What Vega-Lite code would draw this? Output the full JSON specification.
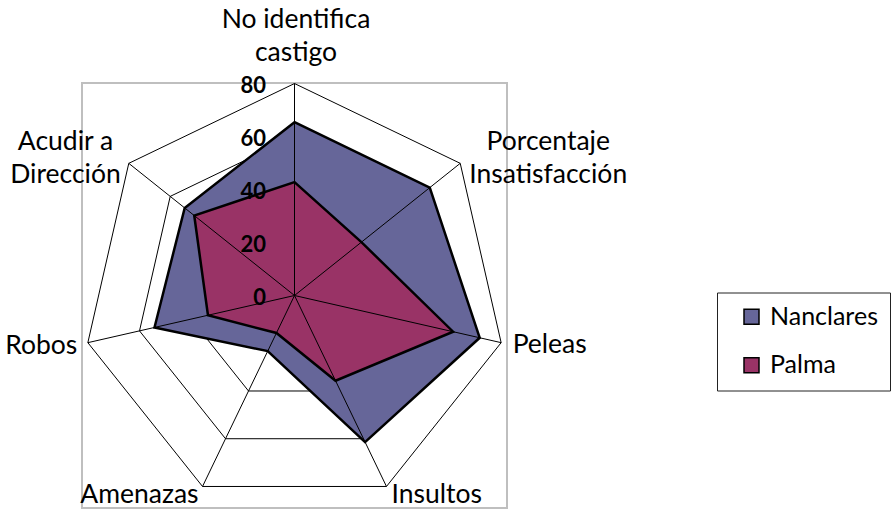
{
  "$schema": "https://vega.github.io/schema/vega-lite/v6.json",
  "width": 425,
  "height": 425,
  "autosize": {"type": "none"},
  "padding": {"left": 82, "top": 83, "right": 385, "bottom": 1},
  "background": "white",
  "config": {"view": {"stroke": "#bfbfbf", "strokeWidth": 2}, "font": "Lato"},
  "datasets": {
    "series": [
      {"series": "Nanclares", "category": "No identifica castigo", "value": 65.4},
      {"series": "Nanclares", "category": "Porcentaje Insatisfacción", "value": 65.3},
      {"series": "Nanclares", "category": "Peleas", "value": 71.7},
      {"series": "Nanclares", "category": "Insultos", "value": 61.4},
      {"series": "Nanclares", "category": "Amenazas", "value": 23.3},
      {"series": "Nanclares", "category": "Robos", "value": 54.2},
      {"series": "Nanclares", "category": "Acudir a Dirección", "value": 53},
      {"series": "Palma", "category": "No identifica castigo", "value": 42.8},
      {"series": "Palma", "category": "Porcentaje Insatisfacción", "value": 32.3},
      {"series": "Palma", "category": "Peleas", "value": 61.4},
      {"series": "Palma", "category": "Insultos", "value": 35.7},
      {"series": "Palma", "category": "Amenazas", "value": 15.7},
      {"series": "Palma", "category": "Robos", "value": 33.5},
      {"series": "Palma", "category": "Acudir a Dirección", "value": 48.4}
    ],
    "grid": [
      {"category": "No identifica castigo", "level": 20},
      {"category": "Porcentaje Insatisfacción", "level": 20},
      {"category": "Peleas", "level": 20},
      {"category": "Insultos", "level": 20},
      {"category": "Amenazas", "level": 20},
      {"category": "Robos", "level": 20},
      {"category": "Acudir a Dirección", "level": 20},
      {"category": "No identifica castigo", "level": 40},
      {"category": "Porcentaje Insatisfacción", "level": 40},
      {"category": "Peleas", "level": 40},
      {"category": "Insultos", "level": 40},
      {"category": "Amenazas", "level": 40},
      {"category": "Robos", "level": 40},
      {"category": "Acudir a Dirección", "level": 40},
      {"category": "No identifica castigo", "level": 60},
      {"category": "Porcentaje Insatisfacción", "level": 60},
      {"category": "Peleas", "level": 60},
      {"category": "Insultos", "level": 60},
      {"category": "Amenazas", "level": 60},
      {"category": "Robos", "level": 60},
      {"category": "Acudir a Dirección", "level": 60},
      {"category": "No identifica castigo", "level": 80},
      {"category": "Porcentaje Insatisfacción", "level": 80},
      {"category": "Peleas", "level": 80},
      {"category": "Insultos", "level": 80},
      {"category": "Amenazas", "level": 80},
      {"category": "Robos", "level": 80},
      {"category": "Acudir a Dirección", "level": 80}
    ],
    "cats": [
      {"category": "No identifica castigo", "label": "No identifica\ncastigo", "level": 80},
      {"category": "Porcentaje Insatisfacción", "label": "Porcentaje\nInsatisfacción", "level": 80},
      {"category": "Peleas", "label": "Peleas", "level": 80},
      {"category": "Insultos", "label": "Insultos", "level": 80},
      {"category": "Amenazas", "label": "Amenazas", "level": 80},
      {"category": "Robos", "label": "Robos", "level": 80},
      {"category": "Acudir a Dirección", "label": "Acudir a\nDirección", "level": 80}
    ],
    "ticks": [
      {"category": "No identifica castigo", "level": 0},
      {"category": "No identifica castigo", "level": 20},
      {"category": "No identifica castigo", "level": 40},
      {"category": "No identifica castigo", "level": 60},
      {"category": "No identifica castigo", "level": 80}
    ]
  },
  "layer": [
    {
      "data": {"name": "grid"},
      "transform": [
        {"calculate": "indexof(['No identifica castigo','Porcentaje Insatisfacción','Peleas','Insultos','Amenazas','Robos','Acudir a Dirección'], datum.category)", "as": "idx"},
        {"calculate": "datum.level * sin(datum.idx * 2 * PI / 7)", "as": "px"},
        {"calculate": "datum.level * cos(datum.idx * 2 * PI / 7)", "as": "py"}
      ],
      "mark": {"type": "line", "interpolate": "linear-closed", "stroke": "black", "strokeWidth": 1},
      "encoding": {
        "x": {"field": "px", "type": "quantitative", "scale": {"domain": [-80.2, 80.2], "nice": false, "zero": false}, "axis": null},
        "y": {"field": "py", "type": "quantitative", "scale": {"domain": [-80.2, 80.2], "nice": false, "zero": false}, "axis": null},
        "detail": {"field": "level", "type": "nominal"},
        "order": {"field": "idx", "type": "quantitative"}
      }
    },
    {
      "data": {"name": "series"},
      "transform": [
        {"calculate": "indexof(['No identifica castigo','Porcentaje Insatisfacción','Peleas','Insultos','Amenazas','Robos','Acudir a Dirección'], datum.category)", "as": "idx"},
        {"calculate": "datum.value * sin(datum.idx * 2 * PI / 7)", "as": "px"},
        {"calculate": "datum.value * cos(datum.idx * 2 * PI / 7)", "as": "py"}
      ],
      "mark": {"type": "line", "interpolate": "linear-closed", "stroke": "black", "strokeWidth": 2.5, "strokeJoin": "miter", "fillOpacity": 1},
      "encoding": {
        "x": {"field": "px", "type": "quantitative"},
        "y": {"field": "py", "type": "quantitative"},
        "fill": {
          "field": "series", "type": "nominal",
          "scale": {"domain": ["Nanclares", "Palma"], "range": ["#666699", "#993366"]},
          "legend": {
            "title": null, "orient": "none", "legendX": 635, "legendY": 209.5,
            "symbolType": "square", "symbolSize": 225, "symbolStrokeColor": "black", "symbolStrokeWidth": 1.5,
            "labelFont": "Lato", "labelFontSize": 25, "labelColor": "black", "labelOffset": 6,
            "padding": 11.75, "symbolOffset": 10.25, "rowPadding": 22.5,
            "strokeColor": "#222222", "fillColor": "white"
          }
        },
        "order": {"field": "idx", "type": "quantitative"}
      }
    },
    {
      "data": {"name": "cats"},
      "transform": [
        {"calculate": "indexof(['No identifica castigo','Porcentaje Insatisfacción','Peleas','Insultos','Amenazas','Robos','Acudir a Dirección'], datum.category)", "as": "idx"},
        {"calculate": "datum.level * sin(datum.idx * 2 * PI / 7)", "as": "px"},
        {"calculate": "datum.level * cos(datum.idx * 2 * PI / 7)", "as": "py"}
      ],
      "mark": {"type": "rule", "stroke": "black", "strokeWidth": 1},
      "encoding": {
        "x": {"field": "px", "type": "quantitative"},
        "y": {"field": "py", "type": "quantitative"},
        "x2": {"datum": 0},
        "y2": {"datum": 0}
      }
    },
    {
      "data": {"name": "ticks"},
      "mark": {"type": "text", "align": "right", "baseline": "alphabetic", "dx": -28.5, "dy": 9.5, "fontSize": 22, "fontWeight": "bold", "color": "black"},
      "encoding": {
        "x": {"datum": 0, "type": "quantitative"},
        "y": {"field": "level", "type": "quantitative"},
        "text": {"field": "level", "type": "quantitative"}
      }
    },
    {
      "data": {"name": "cats"},
      "transform": [
        {"calculate": "indexof(['No identifica castigo','Porcentaje Insatisfacción','Peleas','Insultos','Amenazas','Robos','Acudir a Dirección'], datum.category)", "as": "idx"},
        {"calculate": "datum.level * sin(datum.idx * 2 * PI / 7)", "as": "px"},
        {"calculate": "datum.level * cos(datum.idx * 2 * PI / 7)", "as": "py"}
      ],
      "layer": [
        {
          "transform": [{"filter": "datum.idx == 0"}],
          "mark": {"type": "text", "align": "center", "baseline": "alphabetic", "dx": 1.5, "dy": -55.2, "lineBreak": "\n", "lineHeight": 33, "fontSize": 26.5, "color": "black"},
          "encoding": {"x": {"field": "px", "type": "quantitative"}, "y": {"field": "py", "type": "quantitative"}, "text": {"field": "label", "type": "nominal"}}
        },
        {
          "transform": [{"filter": "datum.idx == 1"}],
          "mark": {"type": "text", "align": "center", "baseline": "alphabetic", "dx": 88, "dy": -13.3, "lineBreak": "\n", "lineHeight": 33, "fontSize": 26.5, "color": "black"},
          "encoding": {"x": {"field": "px", "type": "quantitative"}, "y": {"field": "py", "type": "quantitative"}, "text": {"field": "label", "type": "nominal"}}
        },
        {
          "transform": [{"filter": "datum.idx == 2"}],
          "mark": {"type": "text", "align": "left", "baseline": "alphabetic", "dx": 11.5, "dy": 10, "fontSize": 26.5, "color": "black"},
          "encoding": {"x": {"field": "px", "type": "quantitative"}, "y": {"field": "py", "type": "quantitative"}, "text": {"field": "label", "type": "nominal"}}
        },
        {
          "transform": [{"filter": "datum.idx == 3"}],
          "mark": {"type": "text", "align": "left", "baseline": "alphabetic", "dx": 5, "dy": 16.5, "fontSize": 26.5, "color": "black"},
          "encoding": {"x": {"field": "px", "type": "quantitative"}, "y": {"field": "py", "type": "quantitative"}, "text": {"field": "label", "type": "nominal"}}
        },
        {
          "transform": [{"filter": "datum.idx == 4"}],
          "mark": {"type": "text", "align": "right", "baseline": "alphabetic", "dx": -4, "dy": 16.5, "fontSize": 26.5, "color": "black"},
          "encoding": {"x": {"field": "px", "type": "quantitative"}, "y": {"field": "py", "type": "quantitative"}, "text": {"field": "label", "type": "nominal"}}
        },
        {
          "transform": [{"filter": "datum.idx == 5"}],
          "mark": {"type": "text", "align": "right", "baseline": "alphabetic", "dx": -10.5, "dy": 11, "fontSize": 26.5, "color": "black"},
          "encoding": {"x": {"field": "px", "type": "quantitative"}, "y": {"field": "py", "type": "quantitative"}, "text": {"field": "label", "type": "nominal"}}
        },
        {
          "transform": [{"filter": "datum.idx == 6"}],
          "mark": {"type": "text", "align": "center", "baseline": "alphabetic", "dx": -63.3, "dy": -13.3, "lineBreak": "\n", "lineHeight": 33, "fontSize": 26.5, "color": "black"},
          "encoding": {"x": {"field": "px", "type": "quantitative"}, "y": {"field": "py", "type": "quantitative"}, "text": {"field": "label", "type": "nominal"}}
        }
      ]
    }
  ]
}
